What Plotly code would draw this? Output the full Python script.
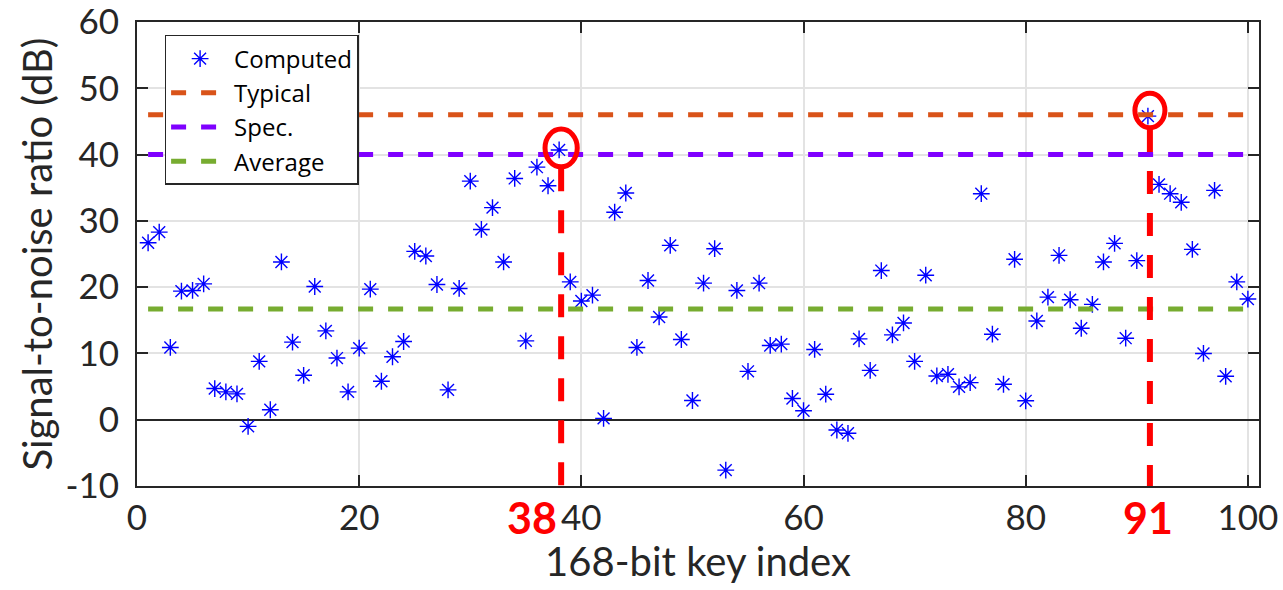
import plotly.graph_objects as go

# ---------------- data ----------------
key_index = list(range(1, 101))
snr_computed = [
    26.7, 28.3, 10.9, 19.4, 19.5, 20.5, 4.7, 4.2, 3.9, -1.0,
    8.8, 1.5, 23.8, 11.7, 6.7, 20.1, 13.4, 9.3, 4.2, 10.8,
    19.7, 5.8, 9.5, 11.8, 25.4, 24.7, 20.4, 4.5, 19.8, 36.0,
    28.7, 32.0, 23.8, 36.4, 11.9, 38.1, 35.3, 40.7, 20.8, 17.9,
    18.8, 0.2, 31.3, 34.2, 10.9, 21.0, 15.5, 26.3, 12.1, 2.9,
    20.6, 25.8, -7.6, 19.5, 7.3, 20.6, 11.2, 11.4, 3.2, 1.35,
    10.6, 3.85, -1.55, -2.05, 12.2, 7.45, 22.5, 12.8, 14.6, 8.8,
    21.8, 6.6, 6.85, 4.95, 5.6, 34.1, 12.9, 5.35, 24.2, 2.85,
    14.9, 18.5, 24.8, 18.1, 13.8, 17.4, 23.8, 26.6, 12.3, 24.0,
    45.8, 35.5, 34.1, 32.8, 25.7, 10.0, 34.6, 6.55, 20.8, 18.2,
]
ref_names = ["Typical", "Spec.", "Average"]
ref_values = [46.0, 40.0, 16.7]
ref_colors = ["#D95319", "#7F00FF", "#77AC30"]
highlight_idx = [38, 91]
x_ticks = [0, 20, 40, 60, 80, 100]
y_ticks = [-10, 0, 10, 20, 30, 40, 50, 60]

TXT = "#262626"
FONT = "Lato"

fig = go.Figure()

fig.add_trace(go.Scatter(
    x=key_index, y=snr_computed, mode="markers", name="Computed",
    marker=dict(symbol="asterisk-open", size=14, color="#0000FF",
                line=dict(color="#0000FF", width=1.4)),
))

for name, val, col in zip(ref_names, ref_values, ref_colors):
    fig.add_trace(go.Scatter(
        x=[key_index[0], key_index[-1]], y=[val, val], mode="lines", name=name,
        line=dict(color=col, width=5, dash="15px,15px"),
    ))

# highlight circles + red dashed drop lines
shapes = []
annotations = []
circ_rx = [1.45, 1.35]
circ_ry = [2.85, 2.6]
circ_dy = [0.3, 0.85]
label_shift = [-27, 0]
for k, rx, ry, dy, sh in zip(highlight_idx, circ_rx, circ_ry, circ_dy, label_shift):
    v = snr_computed[k - 1]
    cx = k + 0.18
    cy = v + dy
    shapes.append(dict(type="circle", xref="x", yref="y",
                       x0=cx - rx, x1=cx + rx, y0=cy - ry, y1=cy + ry,
                       line=dict(color="#FF0000", width=5), layer="above"))
    shapes.append(dict(type="line", xref="x", yref="y",
                       x0=cx, x1=cx, y0=cy - ry - 0.2, y1=-10,
                       line=dict(color="#FF0000", width=6, dash="23px,19px"),
                       layer="above"))
    annotations.append(dict(text=str(k), x=k, xref="x", y=0, yref="paper",
                            xanchor="center", yanchor="top", yshift=-4,
                            xshift=sh, showarrow=False,
                            font=dict(family=FONT, size=43, color="#FF0000",
                                      weight="bold")))

fig.update_layout(
    width=1283, height=590,
    margin=dict(l=137, r=24, t=22, b=104, autoexpand=False),
    paper_bgcolor="white", plot_bgcolor="white",
    font=dict(family=FONT, color=TXT, size=35),
    shapes=shapes, annotations=annotations,
    showlegend=True,
    legend=dict(x=0.0246, y=0.972, xanchor="left", yanchor="top",
                bgcolor="white", bordercolor=TXT, borderwidth=1.5,
                font=dict(family="Open Sans", size=24, color="#000000"),
                itemwidth=58, tracegroupgap=0),
)

fig.update_xaxes(
    range=[0, 101], tickvals=x_ticks, ticktext=[str(t) for t in x_ticks],
    automargin=False, ticklabeloverflow="allow",
    showgrid=True, gridcolor="#e3e3e3", gridwidth=1.5,
    zeroline=False,
    showline=True, linecolor=TXT, linewidth=2, mirror="ticks",
    ticks="inside", ticklen=11, tickwidth=2, tickcolor=TXT,
    tickfont=dict(family=FONT, size=35, color=TXT),
    title=dict(text="168-bit key index", font=dict(family=FONT, size=40, color=TXT),
               standoff=2),
)
fig.update_yaxes(
    range=[-10, 60], tickvals=y_ticks, ticktext=[str(t) for t in y_ticks],
    automargin=False, ticklabeloverflow="allow",
    showgrid=True, gridcolor="#e3e3e3", gridwidth=1.5,
    zeroline=True, zerolinecolor=TXT, zerolinewidth=1.5,
    showline=True, linecolor=TXT, linewidth=2, mirror="ticks",
    ticks="inside", ticklen=11, tickwidth=2, tickcolor=TXT,
    ticklabelstandoff=9,
    tickfont=dict(family=FONT, size=35, color=TXT),
    title=dict(text="Signal-to-noise ratio (dB)", font=dict(family=FONT, size=40, color=TXT),
               standoff=0),
)

fig.write_html("out.html")
